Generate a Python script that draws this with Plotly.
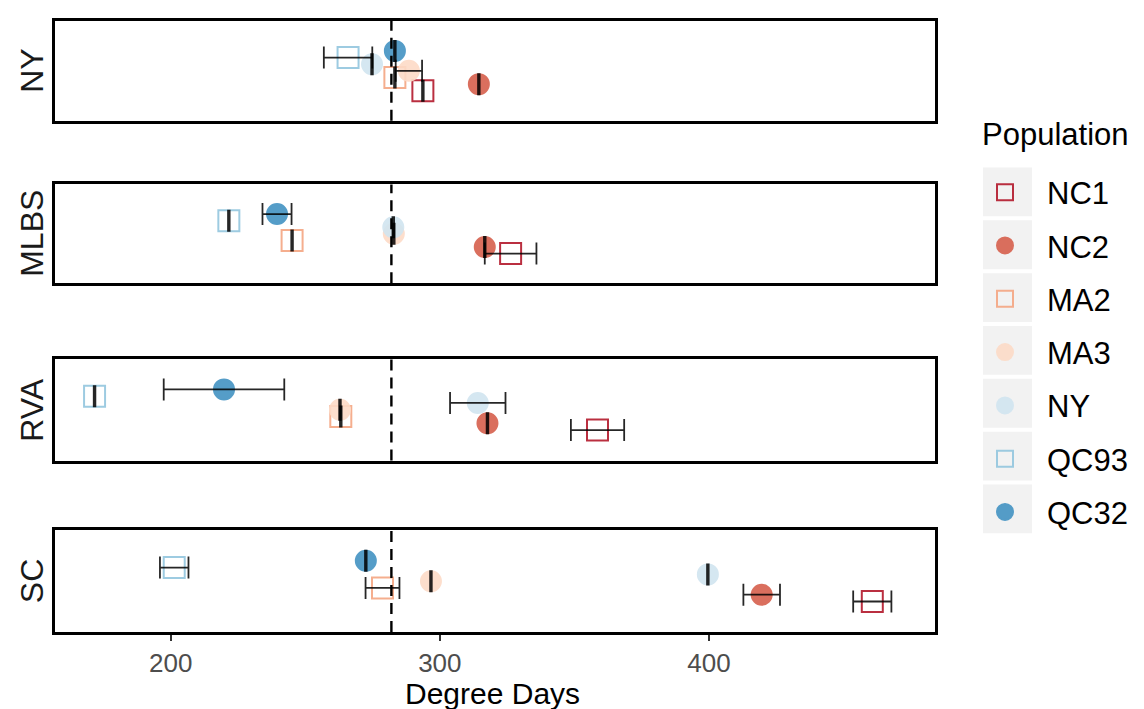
import plotly.graph_objects as go

# ---------------- data ----------------
populations = ["NC1", "NC2", "MA2", "MA3", "NY", "QC93", "QC32"]
sites = ["NY", "MLBS", "RVA", "SC"]

# mean degree days per site (order follows populations)
mean_NY   = [293.7, 314.5, 283.3, 288.5, 274.8, 265.9, 283.3]
mean_MLBS = [326.3, 316.7, 245.1, 282.9, 282.7, 221.6, 239.5]
mean_RVA  = [358.6, 317.7, 263.2, 262.9, 314.1, 171.7, 219.8]
mean_SC   = [460.7, 419.6, 278.7, 296.7, 399.6, 201.3, 272.5]

# half-width of error bars
err_NY   = [0.3, 0.3, 0.3, 4.9, 0.3, 9.0, 0.3]
err_MLBS = [9.6, 0.3, 0.3, 0.3, 0.3, 0.3, 5.4]
err_RVA  = [9.9, 0.3, 0.3, 0.3, 10.3, 0.3, 22.4]
err_SC   = [7.1, 6.8, 6.3, 0.3, 0.3, 5.3, 0.3]

means = [mean_NY, mean_MLBS, mean_RVA, mean_SC]
errs = [err_NY, err_MLBS, err_RVA, err_SC]

threshold = 282
x_ticks = [200, 300, 400]
legend_title = "Population"
x_title = "Degree Days"

# ---------------- style ----------------
colors = ["#b2182b", "#d6604d", "#f4a582", "#fddbc7", "#d1e5f0", "#92c5de", "#4393c3"]
symbols = ["square-open", "circle", "square-open", "circle", "circle", "square-open", "circle"]
sizes = [21, 20, 21, 20, 20, 21, 20]

W, H = 1144, 709
m_l, m_r, m_t, m_b = 47, 217, 10, 84
plot_h = H - m_t - m_b
plot_w = W - m_l - m_r
panel_px = [(11, 111), (175, 274), (350, 452), (522, 624)]


def py2paper(py):
    return 1 - (py - m_t) / plot_h


def px2paper(px):
    return (px - m_l) / plot_w


domains = [[py2paper(b), py2paper(t)] for (t, b) in panel_px]
dodge = [i - 3 for i in range(len(populations))]

fig = go.Figure()

# markers
for p, pop in enumerate(populations):
    for s in range(len(sites)):
        ax = "" if s == 0 else str(s + 1)
        fig.add_trace(go.Scatter(
            x=[means[s][p]], y=[dodge[p]],
            xaxis="x" + ax, yaxis="y" + ax,
            mode="markers",
            name=pop, legendgroup=pop, showlegend=(s == 0),
            marker=dict(symbol=symbols[p], size=sizes[p], color=colors[p],
                        opacity=0.9, line=dict(width=2, color=colors[p])),
        ))

# error bars on top
for p, pop in enumerate(populations):
    for s in range(len(sites)):
        ax = "" if s == 0 else str(s + 1)
        fig.add_trace(go.Scatter(
            x=[means[s][p]], y=[dodge[p]],
            xaxis="x" + ax, yaxis="y" + ax,
            mode="markers", showlegend=False, hoverinfo="skip",
            marker=dict(size=1, opacity=0),
            error_x=dict(type="data", array=[errs[s][p]], symmetric=True,
                         color="rgba(0,0,0,0.85)", thickness=1.8, width=11),
        ))

layout = dict(
    width=W, height=H,
    margin=dict(l=m_l, r=m_r, t=m_t, b=m_b),
    paper_bgcolor="white", plot_bgcolor="white",
    font=dict(family="Liberation Sans, Arial, sans-serif", color="black"),
    showlegend=True,
    legend=dict(
        font=dict(size=31),
        x=px2paper(955), xanchor="left",
        y=py2paper(156), yanchor="top",
        bgcolor="rgba(0,0,0,0)",
        traceorder="grouped", tracegroupgap=10,
        itemwidth=74,
    ),
)

shapes = []
annotations = []
for s, site in enumerate(sites):
    ax = "" if s == 0 else str(s + 1)
    last = (s == len(sites) - 1)
    layout["xaxis" + ax] = dict(
        domain=[0, 1], range=[157, 484], anchor="y" + ax,
        showline=True, mirror=True, linewidth=3, linecolor="black",
        showgrid=False, zeroline=False,
        showticklabels=last, tickvals=x_ticks,
        ticks="outside" if last else "", ticklen=6, tickwidth=1.5, tickcolor="#333333",
        tickfont=dict(size=26, color="#4d4d4d"),
    )
    if s > 0:
        layout["xaxis" + ax]["matches"] = "x"
    layout["yaxis" + ax] = dict(
        domain=domains[s], range=[-7.5, 7.5], anchor="x" + ax,
        showline=True, mirror=True, linewidth=3, linecolor="black",
        showgrid=False, zeroline=False, showticklabels=False, ticks="",
    )
    shapes.append(dict(
        type="line", xref="x" + ax, yref="y" + ax + " domain",
        x0=threshold, x1=threshold, y0=0, y1=1,
        line=dict(color="black", width=2.4, dash="11px,7px"), layer="above",
    ))
    annotations.append(dict(
        text=site, xref="paper", yref="paper",
        x=px2paper(24), y=sum(domains[s]) / 2,
        xanchor="center", yanchor="middle", textangle=-90, showarrow=False,
        font=dict(size=32, color="#1a1a1a"),
    ))

# x-axis title
annotations.append(dict(
    text=x_title, xref="paper", yref="paper",
    x=px2paper(484), y=py2paper(686), xanchor="center", yanchor="middle",
    showarrow=False, font=dict(size=30, color="black"),
))

# legend title
annotations.append(dict(
    text=legend_title, xref="paper", yref="paper",
    x=px2paper(972), y=py2paper(125), xanchor="left", yanchor="middle",
    showarrow=False, font=dict(size=31, color="black"),
))

# grey legend key backgrounds
for p in range(len(populations)):
    top = 158 + 53 * p
    shapes.append(dict(
        type="rect", xref="paper", yref="paper",
        x0=px2paper(975), x1=px2paper(1024), y0=py2paper(top + 49), y1=py2paper(top),
        fillcolor="#f2f2f2", line=dict(width=0), layer="below",
    ))

layout["shapes"] = shapes
layout["annotations"] = annotations
fig.update_layout(**layout)

fig.write_html("out.html")
